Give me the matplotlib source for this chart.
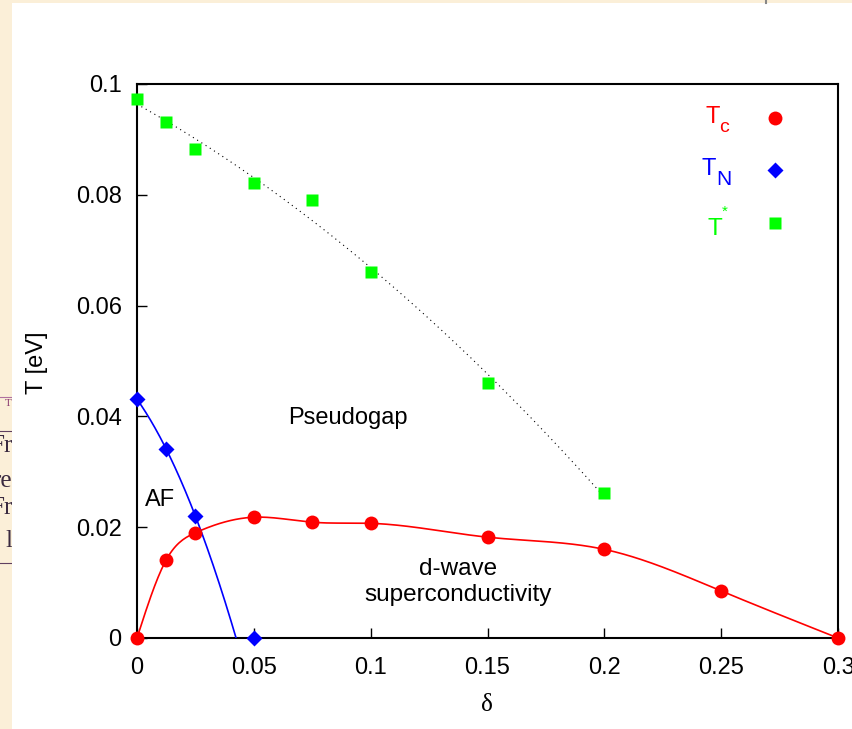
import numpy as np
import matplotlib
matplotlib.use("Agg")
import matplotlib.pyplot as plt
from matplotlib.patches import Rectangle
from matplotlib.lines import Line2D

# ---------------- data ----------------
Tc_x = [0.0, 0.0125, 0.025, 0.05, 0.075, 0.1, 0.15, 0.2, 0.25, 0.3]
Tc_y = [0.0, 0.0141, 0.0190, 0.0218, 0.0209, 0.0207, 0.0182, 0.0160, 0.0085, 0.0]

TN_x = [0.0, 0.0125, 0.025, 0.05]
TN_y = [0.0431, 0.0341, 0.0220, 0.0]

Ts_x = [0.0, 0.0125, 0.025, 0.05, 0.075, 0.1, 0.15, 0.2]
Ts_y = [0.0973, 0.0932, 0.0882, 0.0821, 0.0791, 0.0661, 0.0461, 0.0261]

x_ticks = [0, 0.05, 0.1, 0.15, 0.2, 0.25, 0.3]
x_ticklabels = ["0", "0.05", "0.1", "0.15", "0.2", "0.25", "0.3"]
y_ticks = [0, 0.02, 0.04, 0.06, 0.08, 0.1]
y_ticklabels = ["0", "0.02", "0.04", "0.06", "0.08", "0.1"]

plt.rcParams["font.family"] = ["Liberation Sans", "DejaVu Sans"]


def natural_spline(x, y, xs):
    x = np.asarray(x, float); y = np.asarray(y, float)
    n = len(x)
    h = np.diff(x)
    A = np.zeros((n, n)); b = np.zeros(n)
    A[0, 0] = 1; A[-1, -1] = 1
    for i in range(1, n - 1):
        A[i, i - 1] = h[i - 1]
        A[i, i] = 2 * (h[i - 1] + h[i])
        A[i, i + 1] = h[i]
        b[i] = 6 * ((y[i + 1] - y[i]) / h[i] - (y[i] - y[i - 1]) / h[i - 1])
    M = np.linalg.solve(A, b)
    idx = np.clip(np.searchsorted(x, xs) - 1, 0, n - 2)
    x0 = x[idx]; x1 = x[idx + 1]; hh = x1 - x0
    t0 = x1 - xs; t1 = xs - x0
    return (M[idx] * t0 ** 3 + M[idx + 1] * t1 ** 3) / (6 * hh) + \
        (y[idx] / hh - M[idx] * hh / 6) * t0 + (y[idx + 1] / hh - M[idx + 1] * hh / 6) * t1


W, H = 852, 729
fig = plt.figure(figsize=(W / 100, H / 100), dpi=100)


def fx(px):
    return px / W


def fy(py):
    return 1 - py / H


beige = "#FBEFD8"
fig.patch.set_facecolor(beige)
# white panel
fig.patches.append(Rectangle((fx(12), 0), 1 - fx(12), 1 - 3 / H, transform=fig.transFigure,
                             facecolor="white", edgecolor="none", zorder=-5))
# fragments of the neighbouring page on the left strip
for ytxt, s in [(446, "Fr"), (481, "re"), (508, "Fr"), (541, "l")]:
    fig.text(fx(12.5), fy(ytxt), s, ha="right", va="center", fontsize=18,
             family="Liberation Serif", color="#3a2a40", zorder=-6)
fig.text(fx(12), fy(404), "T", ha="right", va="center", fontsize=8,
         family="Liberation Serif", color="#8a3a70", zorder=-6)
for yl, c in [(397, "#b070a0"), (431, "#604060"), (563, "#604060")]:
    fig.lines.append(Line2D([0, fx(12)], [fy(yl)] * 2, transform=fig.transFigure,
                            color=c, lw=0.8, zorder=-6))
fig.lines.append(Line2D([fx(766)] * 2, [1, fy(3)], transform=fig.transFigure,
                        color="#888888", lw=1.5, zorder=-4))

ax = fig.add_axes([fx(137), fy(638), (838 - 137) / W, (638 - 84) / H])
ax.set_xlim(0, 0.3)
ax.set_ylim(0, 0.1)

# curves
xs = np.linspace(0, 0.3, 400)
ax.plot(xs, natural_spline(Tc_x, Tc_y, xs), color="#FF0000", lw=1.2, zorder=3, clip_on=False)

pN = np.polyfit(TN_x[:3], TN_y[:3], 2)
rts = np.roots(pN)
root = float(np.min(rts[(np.isreal(rts)) & (rts.real > 0)].real))
xn = np.linspace(0, root, 200)
ax.plot(xn, np.polyval(pN, xn), color="#0000FF", lw=1.2, zorder=3)

pS = np.polyfit(Ts_x, Ts_y, 2)
xsS = np.linspace(0, 0.2, 300)
ax.plot(xsS, np.polyval(pS, xsS), color="black", lw=0.8, ls=(0, (1, 3.5)), zorder=3)

# markers
ax.plot(Tc_x, Tc_y, "o", color="#FF0000", ms=10, mec="none", zorder=5, clip_on=False)
ax.plot(TN_x, TN_y, "D", color="#0000FF", ms=8.5, mec="none", zorder=5, clip_on=False)
ax.plot(Ts_x, Ts_y, "s", color="#00FF00", ms=8, mec="none", zorder=4, clip_on=False)

# legend (manual key drawn in figure pixel positions)
mk_x = (775 - 137) / (838 - 137)
for mk, col, ms, py in [("o", "#FF0000", 10, 118), ("D", "#0000FF", 8.5, 170), ("s", "#00FF00", 8, 223)]:
    ax.plot([mk_x], [(638 - py) / (638 - 84)], mk, color=col, ms=ms, mec="none",
            transform=ax.transAxes, clip_on=False)
# T_c
fig.text(fx(705), fy(123), "T", color="#FF0000", fontsize=17, ha="left", va="baseline")
fig.text(fx(719), fy(132), "c", color="#FF0000", fontsize=14, ha="left", va="baseline")
# T_N
fig.text(fx(701), fy(175), "T", color="#0000FF", fontsize=17, ha="left", va="baseline")
fig.text(fx(716), fy(185), "N", color="#0000FF", fontsize=15, ha="left", va="baseline")
# T*
fig.text(fx(708), fy(235), "T", color="#00FF00", fontsize=17.5, ha="left", va="baseline")
fig.text(fx(722), fy(205), "*", color="#00FF00", fontsize=11, ha="left", va="top")

# annotations
ax.text(0.0903, 0.0397, "Pseudogap", fontsize=17, ha="center", va="center")
ax.text(0.0098, 0.0249, "AF", fontsize=17, ha="center", va="center")
ax.text(0.1374, 0.0101, "d-wave\nsuperconductivity", fontsize=17.5, ha="center",
        va="center", linespacing=1.2)

# axes styling
ax.set_xticks(x_ticks)
ax.set_xticklabels(x_ticklabels)
ax.set_yticks(y_ticks)
ax.set_yticklabels(y_ticklabels)
ax.tick_params(direction="in", length=7, width=1, labelsize=17, top=False, right=False)
ax.tick_params(axis="x", pad=14)
ax.tick_params(axis="y", pad=11)
for sp in ax.spines.values():
    sp.set_linewidth(1.5)

fig.text(fx(37), fy(363), "T [eV]", rotation=90, fontsize=17, ha="center", va="center")
fig.text(fx(487), fy(705), "δ", fontsize=18, ha="center", va="center", family="Liberation Serif")

fig.savefig("out.png", dpi=100, facecolor=fig.get_facecolor())
